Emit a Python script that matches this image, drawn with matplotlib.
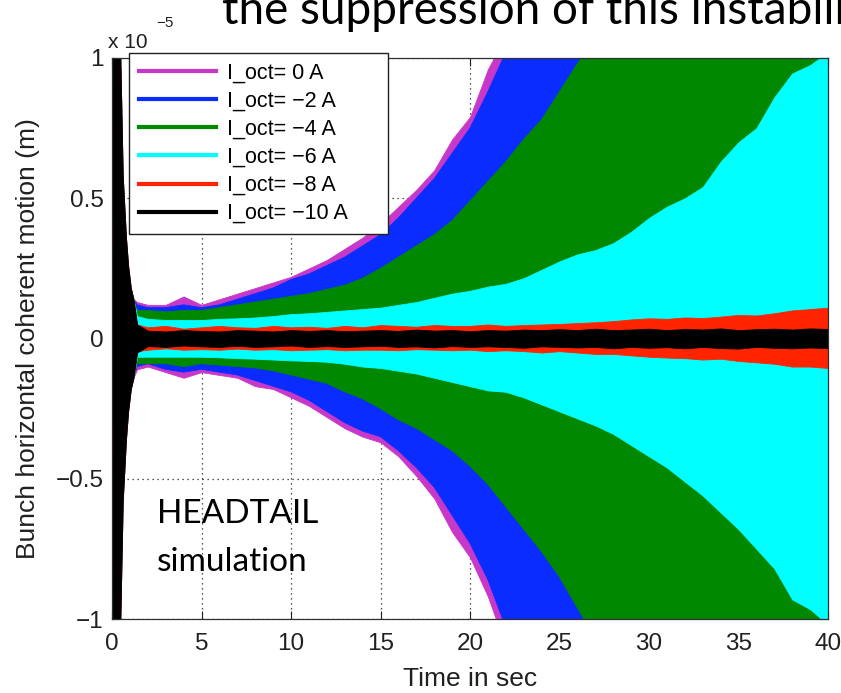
import numpy as np
import matplotlib
matplotlib.use("Agg")
import matplotlib.pyplot as plt
from matplotlib.lines import Line2D
from matplotlib.ticker import FuncFormatter, MultipleLocator

plt.rcParams["font.family"] = ["Liberation Sans", "DejaVu Sans"]

# amplitudes in units of 1e-5 m
labels = ["I_oct= 0 A", "I_oct= \u22122 A", "I_oct= \u22124 A",
          "I_oct= \u22126 A", "I_oct= \u22128 A", "I_oct= \u221210 A"]
colors = ["#c838c8", "#0a2cff", "#008800", "#00ffff", "#ff2400", "#000000"]

# initial kick, common to all octupole settings
t_kick = [0.0, 0.45, 0.6, 0.78, 0.9, 1.05, 1.2]
kick = [1.05, 1.05, 0.58, 0.36, 0.26, 0.18, 0.14]

# envelope sample times after the kick
t_env = np.concatenate([[1.4], np.arange(2, 41)])

up_0A = [0.13, 0.12, 0.12, 0.15, 0.12, 0.14, 0.16, 0.18, 0.20, 0.22,
         0.25, 0.28, 0.32, 0.36, 0.41, 0.47, 0.53, 0.60, 0.71, 0.79,
         0.96, 1.08, 1.20]
lo_0A = [-0.11, -0.10, -0.12, -0.14, -0.12, -0.13, -0.14, -0.17, -0.18, -0.21,
         -0.24, -0.28, -0.32, -0.35, -0.37, -0.42, -0.49, -0.57, -0.69, -0.78,
         -0.92, -1.10, -1.20]

up_2A = [0.12, 0.11, 0.11, 0.12, 0.11, 0.12, 0.14, 0.16, 0.18, 0.21,
         0.23, 0.26, 0.29, 0.33, 0.37, 0.43, 0.50, 0.57, 0.66, 0.75,
         0.88, 1.02, 1.12, 1.22, 1.32, 1.42, 1.52, 1.62]
lo_2A = [-0.10, -0.09, -0.11, -0.12, -0.11, -0.12, -0.13, -0.15, -0.17, -0.19,
         -0.22, -0.26, -0.30, -0.33, -0.35, -0.40, -0.46, -0.53, -0.63, -0.73,
         -0.86, -1.03, -1.13, -1.23, -1.33, -1.43, -1.53, -1.63]

up_4A = [0.10, 0.10, 0.095, 0.10, 0.10, 0.11, 0.12, 0.13, 0.14, 0.15,
         0.16, 0.175, 0.19, 0.215, 0.25, 0.29, 0.33, 0.37, 0.42, 0.49,
         0.56, 0.63, 0.71, 0.78, 0.88, 0.98, 1.06, 1.15, 1.22, 1.30,
         1.38, 1.45, 1.52, 1.60, 1.68, 1.75, 1.82, 1.90, 1.98, 2.05]
lo_4A = [-0.09, -0.09, -0.09, -0.10, -0.09, -0.095, -0.10, -0.105, -0.115, -0.13,
         -0.145, -0.16, -0.19, -0.215, -0.25, -0.29, -0.32, -0.36, -0.40, -0.455,
         -0.52, -0.60, -0.68, -0.76, -0.85, -0.96, -1.07, -1.15, -1.22, -1.30,
         -1.38, -1.45, -1.52, -1.60, -1.68, -1.75, -1.82, -1.90, -1.98, -2.05]

up_6A = [0.08, 0.07, 0.066, 0.066, 0.066, 0.07, 0.072, 0.075, 0.08, 0.087,
         0.09, 0.095, 0.10, 0.105, 0.11, 0.12, 0.13, 0.145, 0.16, 0.17,
         0.185, 0.195, 0.215, 0.245, 0.275, 0.30, 0.315, 0.34, 0.38, 0.43,
         0.47, 0.50, 0.54, 0.63, 0.70, 0.75, 0.86, 0.945, 0.975, 1.02]
lo_6A = [-0.065, -0.065, -0.065, -0.065, -0.065, -0.067, -0.07, -0.072, -0.075, -0.078,
         -0.08, -0.083, -0.09, -0.10, -0.105, -0.115, -0.125, -0.14, -0.155, -0.17,
         -0.185, -0.19, -0.21, -0.235, -0.26, -0.285, -0.31, -0.34, -0.38, -0.42,
         -0.46, -0.51, -0.56, -0.62, -0.68, -0.75, -0.82, -0.93, -0.965, -1.02]

up_8A = [0.05, 0.04, 0.045, 0.035, 0.04, 0.045, 0.04, 0.038, 0.045, 0.04,
         0.042, 0.038, 0.045, 0.04, 0.048, 0.045, 0.042, 0.048, 0.045, 0.045,
         0.05, 0.045, 0.048, 0.05, 0.052, 0.055, 0.058, 0.062, 0.068, 0.072,
         0.07, 0.075, 0.073, 0.078, 0.084, 0.082, 0.09, 0.10, 0.105, 0.11]
lo_8A = [-0.045, -0.04, -0.035, -0.04, -0.038, -0.04, -0.036, -0.04, -0.038, -0.042,
         -0.04, -0.038, -0.042, -0.04, -0.04, -0.042, -0.038, -0.04, -0.042, -0.04,
         -0.045, -0.042, -0.045, -0.05, -0.045, -0.05, -0.055, -0.055, -0.06, -0.065,
         -0.068, -0.07, -0.075, -0.072, -0.08, -0.085, -0.09, -0.10, -0.10, -0.105]

up_10A = [0.05, 0.028, 0.025, 0.03, 0.027, 0.025, 0.03, 0.028, 0.025, 0.03,
          0.027, 0.03, 0.026, 0.028, 0.03, 0.027, 0.032, 0.028, 0.03, 0.026,
          0.03, 0.028, 0.032, 0.03, 0.033, 0.03, 0.035, 0.03, 0.032, 0.035,
          0.03, 0.034, 0.032, 0.036, 0.03, 0.033, 0.035, 0.032, 0.036, 0.034]
lo_10A = [-0.05, -0.027, -0.03, -0.025, -0.028, -0.03, -0.026, -0.03, -0.028, -0.025,
          -0.03, -0.027, -0.03, -0.028, -0.026, -0.03, -0.028, -0.032, -0.027, -0.03,
          -0.028, -0.03, -0.033, -0.028, -0.03, -0.032, -0.03, -0.035, -0.03, -0.033,
          -0.031, -0.035, -0.03, -0.034, -0.036, -0.03, -0.033, -0.035, -0.032, -0.034]

uppers = [up_0A, up_2A, up_4A, up_6A, up_8A, up_10A]
lowers = [lo_0A, lo_2A, lo_4A, lo_6A, lo_8A, lo_10A]

W, H = 841, 693
fig = plt.figure(figsize=(W / 100, H / 100), dpi=100)
ax = fig.add_axes([112 / W, 1 - 619 / H, 716 / W, 561 / H])

for up, lo, col in zip(uppers, lowers, colors):
    n = len(up)
    t = np.concatenate([t_kick, t_env[:n]])
    hi = np.concatenate([kick, up])
    low = np.concatenate([-np.array(kick), lo])
    ax.fill_between(t, low, hi, color=col, linewidth=0.6, edgecolor=col)

ax.set_xlim(0, 40)
ax.set_ylim(-1, 1)
ax.xaxis.set_major_locator(MultipleLocator(5))
ax.yaxis.set_major_locator(MultipleLocator(0.5))
fmt = FuncFormatter(lambda v, pos: ("%g" % v).replace("-", "\u2212"))
ax.xaxis.set_major_formatter(fmt)
ax.yaxis.set_major_formatter(fmt)
ax.tick_params(direction="in", top=True, right=True, length=6, width=0.8,
               labelsize=17.5, colors="#202020")
ax.tick_params(axis="x", pad=10)
ax.tick_params(axis="y", pad=6)
ax.set_axisbelow(True)
ax.grid(True, linestyle=(0, (1, 3)), color="#202020", linewidth=0.9)
for s in ax.spines.values():
    s.set_linewidth(0.9)
    s.set_color("#303030")

ax.set_xlabel("Time in sec", fontsize=19, color="#202020")
ax.xaxis.set_label_coords(0.5, -0.085)
ax.set_ylabel("Bunch horizontal coherent motion (m)", fontsize=19, color="#202020")
ax.yaxis.set_label_coords(-0.10, 0.5)

handles = [Line2D([], [], color=c, linewidth=3) for c in colors]
leg = ax.legend(handles, labels, loc="upper left",
                bbox_to_anchor=(0.024, 0.0, 0.362, 1.009), mode="expand",
                borderaxespad=0, fontsize=15.5, handlelength=3.6, handletextpad=0.5,
                labelspacing=0.33, borderpad=0.45, fancybox=False, framealpha=1)
leg.get_frame().set_edgecolor("#202020")
leg.get_frame().set_linewidth(1.0)

# exponent of the y axis
fig.text(108 / W, 1 - 48 / H, "x 10", fontsize=15, va="baseline", color="#202020")
fig.text(156 / W, 1 - 27 / H, "\u22125", fontsize=11, va="baseline", color="#202020")

fig.text(157 / W, 1 - 571 / H, "HEADTAIL\nsimulation", fontsize=24,
         family=["Lato", "DejaVu Sans"], va="baseline", ha="left", linespacing=1.75)

fig.text(222 / W, 1 - 24 / H, "the suppression of this instability",
         fontsize=33, family=["Lato", "DejaVu Sans"], va="baseline", ha="left")

fig.savefig("out.png", dpi=100)
